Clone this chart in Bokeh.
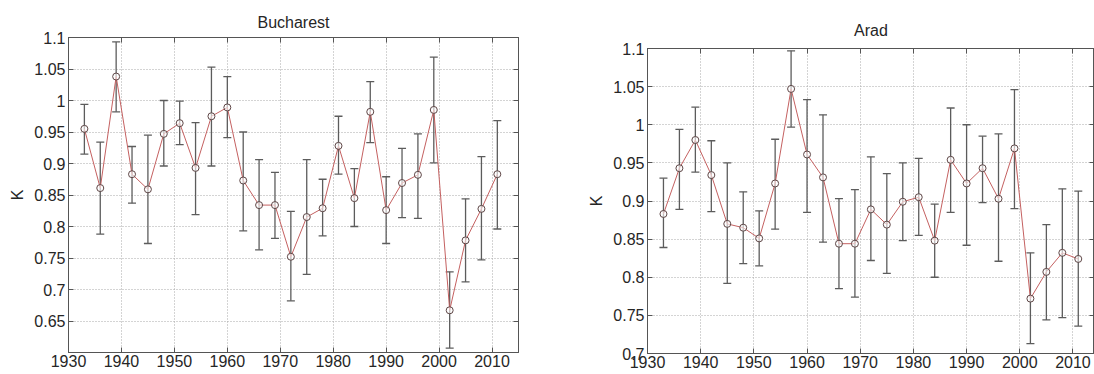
from bokeh.plotting import figure
from bokeh.models import (ColumnDataSource, Whisker, TeeHead, FixedTicker, LinearAxis,
                          CustomJSTickFormatter, Range1d)
from bokeh.layouts import row, column
from bokeh.embed import file_html
from bokeh.resources import INLINE

# ---------------- data ----------------
years = [1933, 1936, 1939, 1942, 1945, 1948, 1951, 1954, 1957, 1960, 1963, 1966, 1969, 1972,
         1975, 1978, 1981, 1984, 1987, 1990, 1993, 1996, 1999, 2002, 2005, 2008, 2011]

buc_k = [0.955, 0.861, 1.038, 0.883, 0.859, 0.947, 0.964, 0.893, 0.975, 0.989, 0.873, 0.834, 0.834,
         0.752, 0.815, 0.829, 0.928, 0.845, 0.982, 0.826, 0.869, 0.882, 0.985, 0.667, 0.778, 0.828, 0.883]
buc_upper = [0.994, 0.934, 1.093, 0.927, 0.945, 1.000, 0.999, 0.965, 1.053, 1.038, 0.950, 0.906, 0.886,
             0.824, 0.906, 0.875, 0.975, 0.892, 1.030, 0.879, 0.924, 0.947, 1.069, 0.728, 0.844, 0.911, 0.968]
buc_lower = [0.915, 0.788, 0.982, 0.837, 0.773, 0.896, 0.930, 0.819, 0.896, 0.941, 0.793, 0.763, 0.781,
             0.682, 0.724, 0.785, 0.883, 0.800, 0.933, 0.773, 0.814, 0.813, 0.901, 0.607, 0.712, 0.747, 0.796]

arad_k = [0.883, 0.943, 0.980, 0.934, 0.870, 0.865, 0.851, 0.923, 1.047, 0.961, 0.931, 0.844, 0.844,
          0.889, 0.869, 0.899, 0.905, 0.848, 0.954, 0.923, 0.943, 0.903, 0.969, 0.772, 0.807, 0.832, 0.824]
arad_upper = [0.930, 0.994, 1.023, 0.979, 0.950, 0.912, 0.887, 0.981, 1.097, 1.033, 1.013, 0.903, 0.915,
              0.958, 0.936, 0.950, 0.956, 0.896, 1.022, 1.000, 0.985, 0.988, 1.046, 0.832, 0.869, 0.916, 0.913]
arad_lower = [0.839, 0.889, 0.938, 0.886, 0.792, 0.818, 0.815, 0.863, 0.997, 0.885, 0.846, 0.785, 0.774,
              0.822, 0.805, 0.848, 0.855, 0.800, 0.885, 0.842, 0.898, 0.821, 0.890, 0.713, 0.744, 0.747, 0.736]

x_ticks = [1930, 1940, 1950, 1960, 1970, 1980, 1990, 2000, 2010]
buc_y_ticks = [0.65, 0.7, 0.75, 0.8, 0.85, 0.9, 0.95, 1.0, 1.05, 1.1]
arad_y_ticks = [0.7, 0.75, 0.8, 0.85, 0.9, 0.95, 1.0, 1.05, 1.1]

FONT = "Liberation Sans"
TXT = "#262626"
BOX = "#555555"
BAR = "#5c5c5c"
LINE = "#c46060"
MARK = "#5e4646"


def make(title, k, up, lo, yticks, y0, y1, x1, width, height, bl, br, bt, bb, tstand):
    p = figure(width=width, height=height, output_backend="svg", toolbar_location=None,
               x_range=Range1d(1930, x1), y_range=Range1d(y0, y1),
               min_border_left=bl, min_border_right=br, min_border_top=bt, min_border_bottom=bb)
    p.title.text = title
    p.title.align = "center"
    p.title.text_font = FONT
    p.title.text_font_size = "16px"
    p.title.text_font_style = "normal"
    p.title.text_color = TXT
    p.title.standoff = tstand

    fmt = CustomJSTickFormatter(code="return String(Math.round(tick*1000)/1000);")
    blank = CustomJSTickFormatter(code="return '';")
    xt = FixedTicker(ticks=x_ticks)
    yt = FixedTicker(ticks=yticks)

    p.xaxis.ticker = xt
    p.yaxis.ticker = yt
    p.yaxis.formatter = fmt
    p.yaxis.axis_label = "K"
    p.yaxis.axis_label_standoff = 5
    p.yaxis.axis_label_text_font = FONT
    p.yaxis.axis_label_text_font_size = "16px"
    p.yaxis.axis_label_text_font_style = "normal"
    p.yaxis.axis_label_text_color = TXT
    for ax in (p.xaxis, p.yaxis):
        ax.major_label_text_font = FONT
        ax.major_label_text_font_size = "16px"
        ax.major_label_text_color = TXT
        ax.major_tick_in = 5
        ax.major_tick_out = 0
        ax.minor_tick_in = 0
        ax.minor_tick_out = 0
        ax.major_tick_line_color = BOX
        ax.axis_line_color = BOX
        ax.major_label_standoff = 3
    p.xaxis.major_label_standoff = 2

    # ticks on top and right sides (matlab-style box)
    top = LinearAxis(ticker=xt, formatter=blank, major_label_standoff=0,
                     major_tick_in=5, major_tick_out=0, minor_tick_in=0, minor_tick_out=0,
                     major_tick_line_color=BOX, axis_line_color=BOX)
    right = LinearAxis(ticker=yt, formatter=blank, major_label_standoff=0,
                       major_tick_in=5, major_tick_out=0, minor_tick_in=0, minor_tick_out=0,
                       major_tick_line_color=BOX, axis_line_color=BOX)
    p.add_layout(top, "above")
    p.add_layout(right, "right")

    p.outline_line_color = BOX
    p.xgrid.ticker = xt
    p.ygrid.ticker = yt
    for g in (p.xgrid, p.ygrid):
        g.grid_line_color = "#a8a8a8"
        g.grid_line_dash = "1 2"
        g.grid_line_width = 1

    src = ColumnDataSource(dict(x=years, k=k, up=up, lo=lo))
    w = Whisker(source=src, base="x", upper="up", lower="lo", dimension="height",
                line_color=BAR, line_width=1.3,
                upper_head=TeeHead(size=8, line_color=BAR, line_width=1.3),
                lower_head=TeeHead(size=8, line_color=BAR, line_width=1.3))
    p.add_layout(w)
    p.line("x", "k", source=src, line_color=LINE, line_width=1)
    p.scatter("x", "k", source=src, marker="circle", size=7, fill_color="white",
              fill_alpha=0.6, line_color=MARK, line_width=1)
    return p


p1 = make("Bucharest", buc_k, buc_upper, buc_lower, buc_y_ticks, 0.6, 1.1, 2015,
          575, 374, 68, 57, 37, 22, 14)
p2 = make("Arad", arad_k, arad_upper, arad_lower, arad_y_ticks, 0.7, 1.1, 2014.05,
          519, 374, 72, 0, 48, 21, 20)

layout = row(column(p1), column(p2))
open("out.html", "w").write(file_html(layout, INLINE))
